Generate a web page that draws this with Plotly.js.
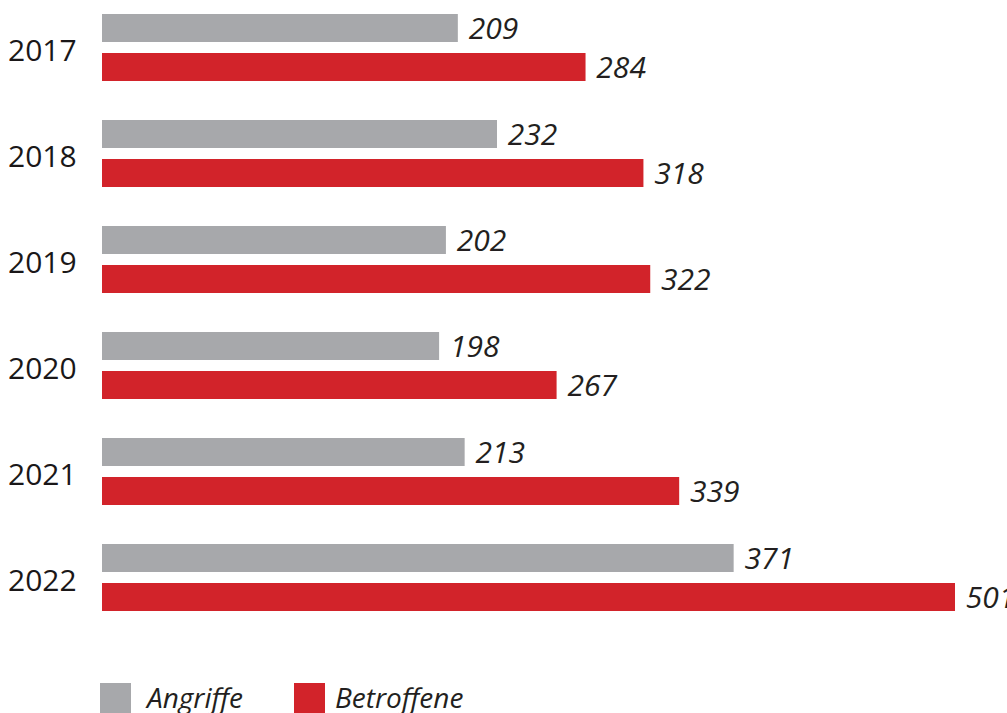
<!DOCTYPE html>
<html>
<head>
<meta charset="utf-8">
<script src="https://cdn.plot.ly/plotly-3.0.1.min.js"></script>
<style>html,body{margin:0;padding:0;background:#fff;}#chart{width:1007px;height:713px;}</style>
</head>
<body>
<div id="chart"></div>
<script>
const years = ["2017", "2018", "2019", "2020", "2021", "2022"];
const angriffe = [209, 232, 202, 198, 213, 371];
const betroffene = [284, 318, 322, 267, 339, 501];
const seriesNames = ["Angriffe", "Betroffene"];
const colors = ["#A7A8AB", "#D2232A"];

const W = 1007, H = 713;
const mL = 102, mR = 0, mT = 0, mB = 73;
const plotW = W - mL - mR, plotH = H - mT - mB;
const px2x = px => (px - mL) / plotW;
const px2y = py => (H - mB - py) / plotH;
const textColor = "#231F20";

const valueFont = {family: "Open Sans, Liberation Sans, sans-serif", size: 30, color: textColor, style: "italic"};

const traces = [angriffe, betroffene].map((vals, i) => ({
  type: "bar",
  orientation: "h",
  name: seriesNames[i],
  y: years,
  x: vals,
  marker: {color: colors[i]},
  text: vals.map(v => "\u00a0" + v),
  textposition: "outside",
  textfont: valueFont,
  constraintext: "none",
  cliponaxis: false,
  hoverinfo: "x+name"
}));

const annotations = years.map((y, i) => ({
  xref: "paper", yref: "y",
  x: px2x(6), y: i,
  xanchor: "left", yanchor: "middle",
  text: y, showarrow: false, yshift: -2,
  font: {family: "Open Sans, Liberation Sans, sans-serif", size: 30, color: "#1a1718"}
}));

const shapes = [];
const legendX = [[100, 131, 143], [294, 325, 333]];
seriesNames.forEach((n, i) => {
  shapes.push({type: "rect", xref: "paper", yref: "paper",
    x0: px2x(legendX[i][0]), x1: px2x(legendX[i][1]),
    y0: px2y(683), y1: px2y(714),
    fillcolor: colors[i], line: {width: 0}});
  annotations.push({xref: "paper", yref: "paper",
    x: px2x(legendX[i][2]), y: px2y(697),
    xanchor: "left", yanchor: "middle", showarrow: false,
    text: n,
    font: {family: "Open Sans, Liberation Sans, sans-serif", size: 28, color: textColor, style: "italic"}});
});

const layout = {
  width: W, height: H,
  margin: {l: mL, r: mR, t: mT, b: mB, pad: 0},
  paper_bgcolor: "#ffffff", plot_bgcolor: "#ffffff",
  barmode: "group",
  bargap: 0.264,
  bargroupgap: 0.282,
  showlegend: false,
  xaxis: {range: [0, plotW / ((955 - 102) / 501)], visible: false, fixedrange: true},
  yaxis: {type: "category", range: [-0.448 + plotH / 106, -0.448], showticklabels: false,
          showgrid: false, zeroline: false, showline: false, ticks: "", fixedrange: true},
  annotations: annotations,
  shapes: shapes
};

Plotly.newPlot("chart", traces, layout, {displayModeBar: false, staticPlot: true});
</script>
</body>
</html>
